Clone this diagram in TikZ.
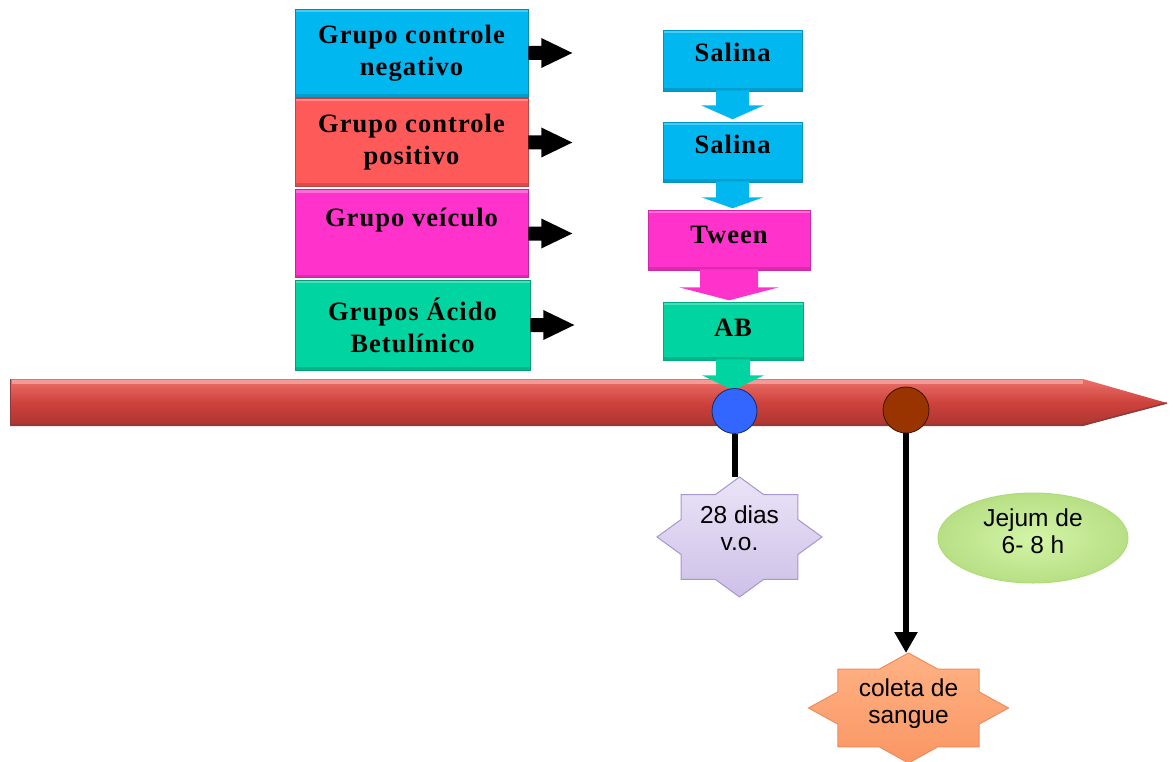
\documentclass[tikz,border=0pt]{standalone}
\usepackage{fontspec}
\setmainfont{Liberation Serif}
\newfontfamily\boxserif[LetterSpace=4]{Liberation Serif}
\newfontfamily\labelsans{Liberation Sans}
\usetikzlibrary{arrows.meta,calc}

\definecolor{negcol}{RGB}{0,183,239}
\definecolor{poscol}{RGB}{255,90,90}
\definecolor{vehcol}{RGB}{255,51,204}
\definecolor{abcol}{RGB}{0,212,160}
\definecolor{tlTop}{RGB}{236,112,106}
\definecolor{tlMid}{RGB}{206,66,60}
\definecolor{tlBot}{RGB}{172,52,48}
\definecolor{tlEdge}{RGB}{140,58,58}
\definecolor{dotBlue}{RGB}{51,102,255}
\definecolor{dotBrown}{RGB}{153,51,0}
\definecolor{lavTop}{RGB}{234,228,247}
\definecolor{lavBot}{RGB}{206,192,232}
\definecolor{lavEdge}{RGB}{168,150,205}
\definecolor{orTop}{RGB}{255,178,132}
\definecolor{orBot}{RGB}{250,150,100}
\definecolor{orEdge}{RGB}{238,140,92}
\definecolor{lime}{RGB}{200,242,145}
\definecolor{limeEdge}{RGB}{172,222,118}

% block arrow pointing right, leaving a node's east side
\newcommand\sideArrow[1]{%
  \fill[black] (#1.east) ++(0,-7) -- ++(13,0) -- ++(0,-8) -- ++(31,15)
    -- ++(-31,15) -- ++(0,-8) -- ++(-13,0) -- cycle;}

% block arrow hanging below a node: node, shaft half width, shaft length,
% head half width, head length, colour
\newcommand\dropArrow[6]{%
  \fill[#6] (#1.south) ++(-#2,-1) -- ++(0,#3+1) -- ++({-(#4-#2)},0) -- ++(#4,#5)
    -- ++(#4,-#5) -- ++({-(#4-#2)},0) -- ++(0,-#3-1) -- cycle;}

% eight-pointed star: centre, x radius, y radius, path options
\newcommand\eightStar[4]{%
  \begin{scope}[shift={(#1)}]
    \path[#4] (#2,0) \foreach \k [evaluate=\k as \f using {ifthenelse(mod(\k,2)==0,1,0.765)}] in {1,...,15}
      { -- ({\f*#2*cos(\k*22.5)},{\f*#3*sin(\k*22.5)}) } -- cycle;
  \end{scope}}

\begin{document}
\begin{tikzpicture}[x=1pt,y=-1pt,
  bevel/.style={path picture={
    \fill[white,opacity=0.28] (path picture bounding box.north west) rectangle ([yshift=-3pt]path picture bounding box.north east);
    \fill[black,opacity=0.14] (path picture bounding box.south west) rectangle ([yshift=3pt]path picture bounding box.south east);}},
  groupbox/.style={rectangle, fill=#1, draw=#1!75!black, line width=0.6pt,
    minimum width=233pt, minimum height=88pt, inner sep=0pt, align=center,
    font=\boxserif\bfseries\fontsize{26.5}{32}\selectfont, bevel},
  stepbox/.style={rectangle, fill=#1, draw=#1!80!black, line width=0.6pt,
    inner sep=0pt, font=\boxserif\bfseries\fontsize{26.5}{31}\selectfont, bevel},
  startext/.style={align=center, inner sep=0pt, font=\labelsans\fontsize{24.5}{27}\selectfont},
  dot/.style={circle, minimum size=#1, inner sep=0pt, line width=0.8pt},
  stem/.style={line width=6pt, black},
]
\useasboundingbox (0,0) rectangle (1174,762);

% treatment groups
\node[groupbox=negcol] (neg) at (411.5,53) {Grupo controle\\negativo};
\node[groupbox=poscol] (pos) at (411.5,142.5) {Grupo controle\\positivo};
\node[groupbox=vehcol] (veh) at (411.5,233.5) {Grupo veículo\\\mbox{}};
\node[groupbox=abcol, minimum width=235pt, minimum height=90pt] (abg) at (412.5,325) {Grupos Ácido\\Betulínico};

\sideArrow{neg}
\sideArrow{pos}
\sideArrow{veh}
\sideArrow{abg}

% timeline bar
\path[top color=tlTop, bottom color=tlBot, middle color=tlMid]
  (10,379) -- (1083,379) -- (1167,403) -- (1083,426) -- (10,426) -- cycle;
\fill[tlTop!70!white] (12,380) rectangle (1083,384);
\draw[tlEdge, line width=1.5pt] (10,425) -- (1083,425) -- (1167,403);
\draw[tlEdge, line width=1pt] (10,379) -- (10,426);

% administration sequence
\node[stepbox=negcol, minimum width=139pt, minimum height=61pt] (sal1) at (732.5,60.5) {\raisebox{-1.1pt}[0pt][0pt]{Salina}};
\dropArrow{sal1}{16.5}{14}{31.5}{14}{negcol}
\node[stepbox=negcol, minimum width=139pt, minimum height=60pt] (sal2) at (732.5,152) {\raisebox{-1.6pt}[0pt][0pt]{Salina}};
\dropArrow{sal2}{16.5}{15}{31}{11}{negcol}
\node[stepbox=vehcol, minimum width=162pt, minimum height=60pt] (tween) at (729,240) {\raisebox{-3.6pt}[0pt][0pt]{Tween}};
\dropArrow{tween}{29}{17}{50}{13}{vehcol}
\node[stepbox=abcol, minimum width=140pt, minimum height=58pt] (abx) at (733,331) {\raisebox{-5.6pt}[0pt][0pt]{AB}};
\dropArrow{abx}{17}{15}{31}{15}{abcol}

% timeline markers
\node[dot=45pt, fill=dotBlue, draw=dotBlue!40!black] (tlBlue) at (734.5,411) {};
\node[dot=46pt, fill=dotBrown, draw=dotBrown!40!black] (tlBrown) at (906,410) {};

% treatment period
\coordinate (diasC) at (739.5,537);
\coordinate (diasTop) at (739.5,477);
\draw[stem] (tlBlue.south) -- (tlBlue.south |- diasTop);
\eightStar{diasC}{82.5}{60}{top color=lavTop, bottom color=lavBot, draw=lavEdge, line width=1pt}
\node[startext, yshift=8.5pt] (dias) at (diasC) {28 dias\\v.o.};

% fasting
\coordinate (jejumC) at (1033,538);
\path[inner color=lime!80!white, outer color=lime!92!black, draw=limeEdge, line width=1pt]
  (jejumC) ellipse [x radius=95, y radius=45];
\node[startext, yshift=7pt] (jejum) at (jejumC) {Jejum de\\6- 8 h};

% blood sampling
\coordinate (coletaC) at (908.5,708);
\coordinate (coletaTop) at (908.5,653);
\draw[stem, -{Triangle[width=22pt,length=21pt]}] (tlBrown.south) -- (tlBrown.south |- coletaTop);
\eightStar{coletaC}{100}{55}{top color=orTop, bottom color=orBot, draw=orEdge, line width=1pt}
\node[startext, yshift=4pt] (coleta) at (coletaC) {coleta de\\sangue};
\end{tikzpicture}
\end{document}
